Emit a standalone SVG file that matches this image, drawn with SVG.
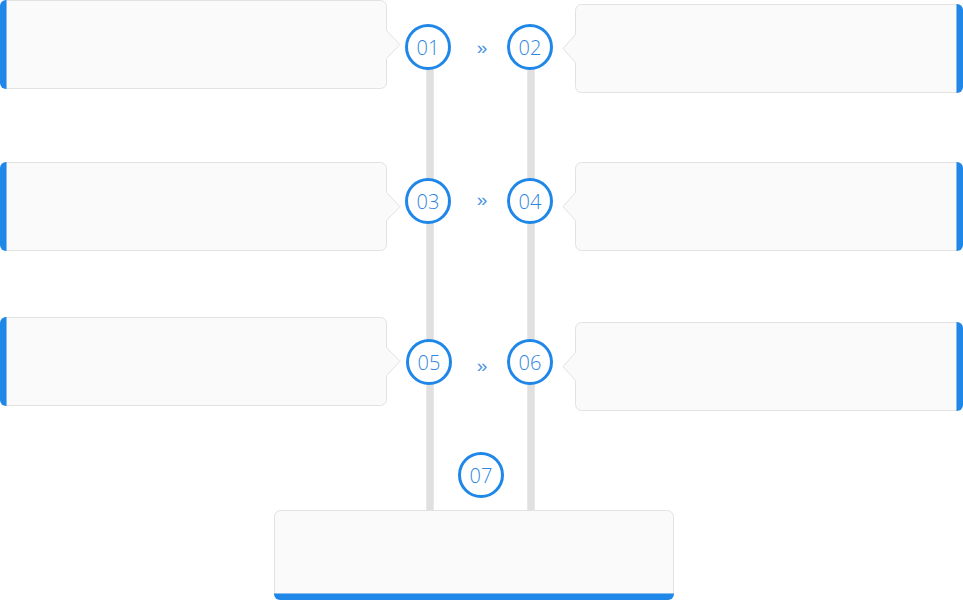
<svg xmlns="http://www.w3.org/2000/svg" width="963" height="600" viewBox="0 0 963 600">
<style>
.box{fill:#fafafa;stroke:#e2e2e2;stroke-width:1}
.bar{fill:#1f87e8}
.rail{stroke:#e0e0e0;stroke-width:7.5}
.node circle{fill:#ffffff;stroke:#1f87e8;stroke-width:3}
.num{font-family:"Open Sans","Liberation Sans",Arial,sans-serif;font-weight:300;font-size:20px;fill:#2f86e0;text-anchor:middle;dominant-baseline:central}
.arr{font-family:"Liberation Sans",Arial,sans-serif;font-size:19px;fill:#4a94e3;text-anchor:middle;dominant-baseline:central}
</style>
<rect width="963" height="600" fill="#ffffff"/>
<g id="connectors">
  <line class="rail" x1="430" y1="47" x2="430" y2="511"/>
  <line class="rail" x1="531" y1="47" x2="531" y2="511"/>
  <text class="arr" x="482" y="47">»</text>
  <text class="arr" x="482" y="199">»</text>
  <text class="arr" x="482" y="365">»</text>
</g>
<g id="box1">
  <path class="box" d="M6,0.5 H380.5 A6,6 0 0 1 386.5,6.5 V30.5 L400,44.5 L386.5,58.5 V82.5 A6,6 0 0 1 380.5,88.5 H6 Z"/>
  <path class="bar" d="M6.5,0 V89 H6 A6,6 0 0 1 0,83 V6 A6,6 0 0 1 6,0 Z"/>
</g>
<g id="box3">
  <path class="box" d="M6,162.5 H380.5 A6,6 0 0 1 386.5,168.5 V192.5 L400,206.5 L386.5,220.5 V244.5 A6,6 0 0 1 380.5,250.5 H6 Z"/>
  <path class="bar" d="M6.5,162 V251 H6 A6,6 0 0 1 0,245 V168 A6,6 0 0 1 6,162 Z"/>
</g>
<g id="box5">
  <path class="box" d="M6,317.5 H380.5 A6,6 0 0 1 386.5,323.5 V347.5 L400,361.5 L386.5,375.5 V399.5 A6,6 0 0 1 380.5,405.5 H6 Z"/>
  <path class="bar" d="M6.5,317 V406 H6 A6,6 0 0 1 0,400 V323 A6,6 0 0 1 6,317 Z"/>
</g>
<g id="box2">
  <path class="box" d="M957,4.5 H581.5 A6,6 0 0 0 575.5,10.5 V34.5 L563,48.5 L575.5,62.5 V86.5 A6,6 0 0 0 581.5,92.5 H957 Z"/>
  <path class="bar" d="M956.5,4 V93 H957 A6,6 0 0 0 963,87 V10 A6,6 0 0 0 957,4 Z"/>
</g>
<g id="box4">
  <path class="box" d="M957,162.5 H581.5 A6,6 0 0 0 575.5,168.5 V192.5 L563,206.5 L575.5,220.5 V244.5 A6,6 0 0 0 581.5,250.5 H957 Z"/>
  <path class="bar" d="M956.5,162 V251 H957 A6,6 0 0 0 963,245 V168 A6,6 0 0 0 957,162 Z"/>
</g>
<g id="box6">
  <path class="box" d="M957,322.5 H581.5 A6,6 0 0 0 575.5,328.5 V352.5 L563,366.5 L575.5,380.5 V404.5 A6,6 0 0 0 581.5,410.5 H957 Z"/>
  <path class="bar" d="M956.5,322 V411 H957 A6,6 0 0 0 963,405 V328 A6,6 0 0 0 957,322 Z"/>
</g>
<g id="box7">
  <path class="box" d="M274.5,594 V516.5 A6,6 0 0 1 280.5,510.5 H667.5 A6,6 0 0 1 673.5,516.5 V594 Z"/>
  <path class="bar" d="M274,593.5 H674 V594 A6,6 0 0 1 668,600 H280 A6,6 0 0 1 274,594 Z"/>
</g>
<g id="n01" class="node"><circle cx="428" cy="47" r="21.5"/><text class="num" x="428" y="47">01</text></g>
<g id="n02" class="node"><circle cx="530" cy="47" r="21.5"/><text class="num" x="530" y="47">02</text></g>
<g id="n03" class="node"><circle cx="428" cy="201" r="21.5"/><text class="num" x="428" y="201">03</text></g>
<g id="n04" class="node"><circle cx="530" cy="201" r="21.5"/><text class="num" x="530" y="201">04</text></g>
<g id="n05" class="node"><circle cx="429" cy="362" r="21.5"/><text class="num" x="429" y="362">05</text></g>
<g id="n06" class="node"><circle cx="530" cy="362" r="21.5"/><text class="num" x="530" y="362">06</text></g>
<g id="n07" class="node"><circle cx="481" cy="475" r="21.5"/><text class="num" x="481" y="475">07</text></g>
</svg>
